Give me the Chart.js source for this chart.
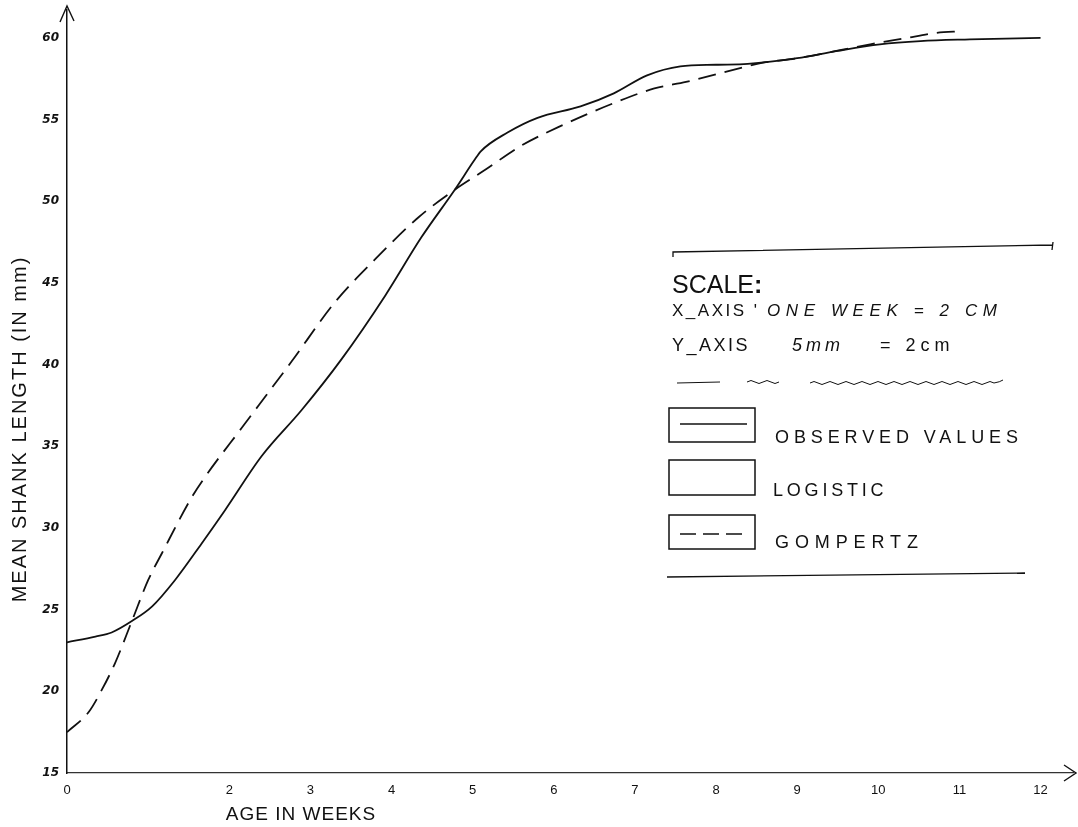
<!DOCTYPE html>
<html>
<head>
<meta charset="utf-8">
<script src="https://cdn.jsdelivr.net/npm/chart.js@4.4.1/dist/chart.umd.min.js"></script>
<style>
  html, body { margin: 0; padding: 0; background: #fff; }
  #wrap { position: relative; width: 1078px; height: 827px; overflow: hidden;
          font-family: "Liberation Sans", Arial, sans-serif; color: #111; }
  canvas { position: absolute; left: 0; top: 0; }
  svg { position: absolute; left: 0; top: 0; }
  .t { position: absolute; white-space: nowrap; line-height: 1; }
  .it { font-style: italic; }
</style>
</head>
<body>
<div id="wrap">
  <canvas id="growth" width="1078" height="827"></canvas>

  <!-- legend rules, boxes and sample strokes -->
  <svg width="1078" height="827" fill="none" stroke="#111">
    <path d="M673 257 L673 252 L1053 245 M1053 242 L1052 250" stroke-width="1.3"/>
    <path d="M667 577 L1025 573" stroke-width="1.3"/>
    <path d="M677 383 L720 382 M747 382 q4 -3 8 0 t8 0 t8 0 t8 0" stroke-width="1"/>
    <path d="M810 383 q4 -3 8 0 t8 0 t8 0 t8 0 t8 0 t8 0 t8 0 t8 0 t8 0 t8 0 t8 0 t8 0 t8 0 t8 0 t8 0 t8 0 t8 0 t8 0 t8 0 t8 0 t8 0 t8 0 t8 0 q6 -1 9 -3" stroke-width="1"/>
    <rect x="669" y="408" width="86" height="34" stroke-width="1.5"/>
    <path d="M680 424 L747 424" stroke-width="1.4"/>
    <rect x="669" y="460" width="86" height="35" stroke-width="1.5"/>
    <rect x="669" y="515" width="86" height="34" stroke-width="1.5"/>
    <path d="M680 534 L747 534" stroke-width="1.4" stroke-dasharray="16 7"/>
  </svg>

  <div class="t" style="left:19px;top:429px;font-size:20px;letter-spacing:2px;transform:translate(-50%,-50%) rotate(-90deg);">MEAN SHANK LENGTH (IN mm)</div>
  <div class="t" style="left:301px;top:813px;font-size:19px;letter-spacing:1px;transform:translate(-50%,-50%);">AGE IN WEEKS</div>

  <div class="t" style="left:672px;top:272px;font-size:25px;">SCALE<b>:</b></div>
  <div class="t" style="left:672px;top:302px;font-size:17px;letter-spacing:2.5px;">X_AXIS '</div>
  <div class="t it" style="left:767px;top:302px;font-size:17px;letter-spacing:5.6px;">ONE WEEK = 2 CM</div>
  <div class="t" style="left:672px;top:336px;font-size:18px;letter-spacing:2.5px;">Y_AXIS</div>
  <div class="t it" style="left:792px;top:336px;font-size:18px;letter-spacing:4px;">5mm</div>
  <div class="t" style="left:880px;top:336px;font-size:18px;letter-spacing:5px;">= 2cm</div>
  <div class="t" style="left:775px;top:428px;font-size:18px;letter-spacing:4.9px;">OBSERVED VALUES</div>
  <div class="t" style="left:773px;top:481px;font-size:18px;letter-spacing:3.8px;">LOGISTIC</div>
  <div class="t" style="left:775px;top:533px;font-size:18px;letter-spacing:5.9px;">GOMPERTZ</div>
</div>

<script>
// observed growth curve (solid line)
const observedWeeks  = [0, 0.35, 0.55, 0.8, 1.05, 1.33, 1.66, 1.95, 2.4, 2.89, 3.38, 3.92, 4.37, 4.78, 5.02, 5.1, 5.43, 5.8, 6.33, 6.74, 7.15, 7.56, 8.0, 8.39, 9.0, 9.5, 10.02, 10.52, 11.13, 12];
const observedLength = [23.0, 23.35, 23.6, 24.3, 25.2, 26.8, 29.05, 31.1, 34.4, 37.2, 40.3, 44.2, 47.8, 50.7, 52.5, 53.05, 54.2, 55.1, 55.8, 56.6, 57.7, 58.25, 58.35, 58.4, 58.75, 59.2, 59.6, 59.8, 59.9, 60.0];

// Gompertz fit (dashed line)
const gompertzWeeks  = [0, 0.27, 0.43, 0.59, 0.8, 1.0, 1.17, 1.54, 1.72, 2.15, 2.77, 3.3, 3.79, 4.33, 4.78, 5.15, 5.6, 6.13, 6.74, 7.24, 7.63, 8.26, 8.55, 9.0, 9.9, 10.31, 10.72, 11.03];
const gompertzLength = [17.5, 18.75, 20.1, 21.7, 24.3, 26.8, 28.45, 31.9, 33.25, 36.1, 40.2, 43.8, 46.4, 49.0, 50.7, 51.9, 53.4, 54.7, 56.0, 56.9, 57.3, 58.1, 58.45, 58.75, 59.6, 59.95, 60.3, 60.4];

// axis ticks as lettered on the sheet (week 1 has no label)
const xTicks = [0, 2, 3, 4, 5, 6, 7, 8, 9, 10, 11, 12];
const yTicks = [15, 20, 25, 30, 35, 40, 45, 50, 55, 60];

const ink = "#111";
const toPts = (xs, ys) => xs.map((x, i) => ({ x, y: ys[i] }));

// arrow heads on the two axes
const axisArrows = {
  id: "axisArrows",
  afterDraw(chart) {
    const { ctx, chartArea: a } = chart;
    ctx.save();
    ctx.strokeStyle = ink;
    ctx.lineWidth = 1.4;
    ctx.beginPath();
    ctx.moveTo(a.left - 7, a.top + 12); ctx.lineTo(a.left, a.top - 4); ctx.lineTo(a.left + 7, a.top + 11);
    ctx.moveTo(a.right - 9, a.bottom - 8); ctx.lineTo(a.right + 3, a.bottom); ctx.lineTo(a.right - 9, a.bottom + 8);
    ctx.stroke();
    ctx.restore();
  }
};

new Chart(document.getElementById("growth"), {
  type: "line",
  data: {
    datasets: [
      { label: "Observed values", data: toPts(observedWeeks, observedLength),
        borderColor: ink, borderWidth: 1.8, pointRadius: 0, fill: false, cubicInterpolationMode: "monotone" },
      { label: "Gompertz", data: toPts(gompertzWeeks, gompertzLength),
        borderColor: ink, borderWidth: 1.8, borderDash: [18, 9], pointRadius: 0, fill: false, cubicInterpolationMode: "monotone" }
    ]
  },
  options: {
    responsive: false,
    animation: false,
    devicePixelRatio: 1,
    layout: { padding: { left: 0, top: 10, right: 5, bottom: 0 } },
    plugins: { legend: { display: false }, tooltip: { enabled: false } },
    scales: {
      x: {
        type: "linear", min: 0, max: 12.4,
        afterBuildTicks: s => { s.ticks = xTicks.map(v => ({ value: v })); },
        afterFit: s => { s.height = 54; s.paddingLeft = 0; s.paddingRight = 0; },
        grid: { display: false, drawTicks: false },
        border: { color: "#333", width: 1.2, dash: [95, 20] },
        ticks: { padding: 10, color: ink, autoSkip: false, maxRotation: 0,
                 font: { family: "Liberation Sans", size: 13 } }
      },
      y: {
        min: 15, max: 61.7,
        afterBuildTicks: s => { s.ticks = yTicks.map(v => ({ value: v })); },
        afterFit: s => { s.width = 67; s.paddingTop = 0; s.paddingBottom = 0; },
        grid: { display: false, drawTicks: false },
        border: { color: ink, width: 1.5 },
        ticks: { padding: 8, color: ink, font: { family: "DejaVu Sans", size: 12, style: "italic", weight: "bold" } }
      }
    }
  },
  plugins: [axisArrows]
});
</script>
</body>
</html>
